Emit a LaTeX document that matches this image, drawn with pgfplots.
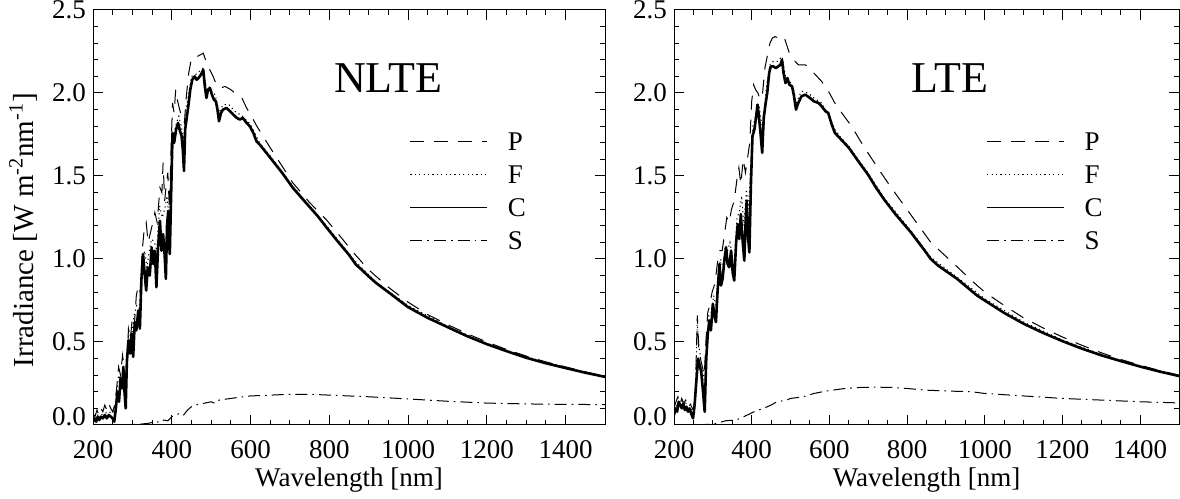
\documentclass[border=0pt]{standalone}
\usepackage{pgfplots}
\pgfplotsset{compat=1.18}
\usepackage{fontspec}
\setmainfont{Liberation Serif}

\pgfplotsset{
  myax/.style={
    scale only axis, anchor=south west,
    height=207.5bp,
    xmin=200, xmax=1500, ymin=0, ymax=2.5,
    xtick={200,400,600,800,1000,1200,1400},
    xticklabels={200,400,600,800,1000,1200,1400},
    ytick={0,0.5,1,1.5,2,2.5},
    yticklabels={\raisebox{8.4bp}{0.0},0.5,1.0,1.5,2.0,\raisebox{-6.6bp}{2.5}},
    minor x tick num=3, minor y tick num=4,
    tick align=inside, major tick length=5bp, minor tick length=2.7bp,
    axis line style={line width=0.5bp},
    every tick/.style={line width=0.5bp, black},
    tick label style={font=\fontsize{13.5bp}{16bp}\selectfont},
    label style={font=\fontsize{13.5bp}{16bp}\selectfont},
    xticklabel style={anchor=base, yshift=-17bp},
    xlabel={Wavelength [nm]},
    xlabel style={at={(axis description cs:0.5,-0.149)}, anchor=base},
    legend style={draw=none, fill=none, inner sep=0pt, outer sep=0pt,
      at={(axis description cs:0.619,0.704)}, anchor=north west,
      font=\fontsize{13.5bp}{16bp}\selectfont,
      column sep=10bp, row sep=7.5bp,
      nodes={inner sep=0pt, text height=9bp, text depth=0pt, anchor=west}},
    legend image code/.code={\draw[#1] (0bp,0bp) -- (38.5bp,0bp);},
  },
  Pst/.style={black, line width=0.5bp, dash pattern=on 7bp off 5bp},
  Fst/.style={black, line width=0.5bp, dash pattern=on 0.6bp off 1.6bp},
  Cst/.style={black, line width=1.3bp, line join=round},
  Cleg/.style={black, line width=0.5bp},
  Sst/.style={black, line width=0.5bp, dash pattern=on 6bp off 2.5bp on 0.8bp off 2.5bp},
}

\begin{document}
\begin{tikzpicture}
% ---------------- NLTE ----------------
\begin{axis}[myax, at={(46.5bp,37bp)}, width=256bp,
  ylabel={Irradiance [W m\textsuperscript{-2}nm\textsuperscript{-1}]},
  ylabel style={at={(axis description cs:-0.117,0.47)}, anchor=base, rotate=0,
    font=\fontsize{14.5bp}{17bp}\selectfont}]
\addplot[Sst, forget plot] coordinates {
(200,0.0) (250,0.0) (300,0.003) (320,0.005) (340,0.01) (360,0.02) (370,0.015) (380,0.03)
(390,0.025) (400,0.05) (410,0.06) (420,0.07) (430,0.06) (440,0.09) (450,0.11) (460,0.12)
(480,0.13) (500,0.14) (510,0.13) (520,0.15) (550,0.16) (580,0.17) (600,0.175) (650,0.18)
(700,0.185) (750,0.185) (800,0.18) (900,0.17) (1000,0.157) (1100,0.143) (1200,0.132)
(1300,0.127) (1400,0.124) (1500,0.123)};
\addplot[Pst, forget plot] coordinates {
(200,0.07) (205,0.05) (210,0.09) (215,0.06) (220,0.10) (225,0.08) (230,0.12) (235,0.09)
(240,0.13) (245,0.10) (250,0.08) (255,0.12) (260,0.22) (265,0.35) (270,0.30) (275,0.42)
(280,0.33) (285,0.28) (290,0.58) (295,0.52) (300,0.65) (305,0.60) (310,0.78) (315,0.84)
(320,0.80) (325,1.05) (330,1.18) (335,1.22) (340,1.10) (345,1.15) (350,1.20) (357,1.28)
(363,1.22) (370,1.43) (375,1.40) (378,1.58) (382,1.35) (386,1.45) (390,1.52) (394,1.30)
(398,1.65) (402,1.94) (406,1.88) (410,2.02) (414,1.96) (420,1.90) (426,1.85) (432,1.82)
(437,1.98) (443,2.12) (450,2.21) (465,2.22) (480,2.24) (490,2.17) (505,2.10) (515,2.04)
(525,2.03) (535,2.04) (550,2.02) (565,1.99) (578,1.97) (590,1.91) (600,1.87) (616,1.80)
(650,1.67) (680,1.56) (707,1.46) (750,1.34) (793,1.235) (830,1.13) (859,1.045) (870,1.015)
(900,0.935) (950,0.83) (1000,0.74) (1050,0.665) (1100,0.605) (1150,0.55) (1200,0.50)
(1250,0.455) (1300,0.415) (1350,0.38) (1400,0.35) (1450,0.32) (1500,0.293)};
\addplot[Fst, forget plot] coordinates {
(200,0.05) (210,0.06) (220,0.06) (230,0.07) (240,0.08) (250,0.07) (258,0.13) (265,0.30)
(272,0.26) (278,0.34) (284,0.20) (290,0.55) (297,0.50) (304,0.66) (311,0.72) (318,0.70)
(325,0.95) (331,1.05) (337,0.95) (343,1.05) (349,1.12) (356,1.10) (362,1.05) (369,1.32)
(376,1.25) (382,1.30) (388,1.38) (394,1.22) (400,1.72) (406,1.76) (412,1.82) (418,1.86)
(424,1.80) (430,1.72) (436,1.90) (442,1.98) (450,2.10) (460,2.11) (470,2.13) (480,2.15)
(486,2.05) (494,2.04) (502,2.01) (510,1.99) (520,1.88) (530,1.93) (545,1.93) (560,1.89)
(580,1.86) (600,1.81) (623,1.70) (660,1.59) (707,1.44) (793,1.20) (866,0.985) (919,0.86)
(1000,0.72) (1100,0.595) (1200,0.492) (1300,0.41) (1400,0.347) (1500,0.292)};
\addplot[Cst, forget plot] coordinates {
(200,0.02) (204,0.04) (208,0.02) (212,0.05) (216,0.03) (220,0.05) (225,0.04) (230,0.06)
(235,0.04) (240,0.06) (245,0.05) (250,0.04) (254,0.02) (258,0.10) (262,0.20) (266,0.14)
(270,0.28) (274,0.22) (277,0.35) (280,0.20) (283,0.10) (286,0.38) (290,0.51) (294,0.43)
(298,0.55) (302,0.41) (306,0.62) (310,0.57) (315,0.69) (319,0.58) (323,0.88) (327,1.03)
(331,0.92) (335,0.81) (339,0.95) (344,0.90) (349,1.07) (353,0.97) (357,1.05) (361,0.83)
(365,1.06) (370,1.23) (374,1.05) (378,1.15) (382,1.02) (385,0.88) (388,1.20) (391,1.29)
(393,1.10) (395,1.03) (398,1.35) (402,1.76) (406,1.70) (411,1.78) (416,1.82) (421,1.77)
(425,1.74) (428,1.66) (431,1.53) (434,1.78) (438,1.85) (442,1.92) (447,2.02) (452,2.08)
(458,2.10) (463,2.08) (468,2.09) (474,2.11) (480,2.14) (484,2.04) (488,1.97) (492,2.02)
(497,2.03) (502,1.99) (507,1.96) (512,1.95) (516,1.90) (520,1.83) (525,1.88) (530,1.90)
(539,1.91) (548,1.89) (556,1.87) (565,1.85) (573,1.84) (580,1.85) (590,1.82) (598,1.80)
(607,1.76) (615,1.71) (623,1.69) (640,1.64) (660,1.58) (680,1.52) (707,1.43) (740,1.34)
(770,1.26) (793,1.19) (820,1.11) (850,1.025) (862,0.985) (868,0.965) (880,0.94) (900,0.895)
(919,0.855) (950,0.80) (1000,0.71) (1050,0.645) (1100,0.59) (1150,0.535) (1200,0.487)
(1250,0.445) (1300,0.405) (1350,0.372) (1400,0.343) (1450,0.315) (1500,0.29)};
\addlegendimage{Pst}\addlegendentry{P}
\addlegendimage{Fst}\addlegendentry{F}
\addlegendimage{Cleg}\addlegendentry{C}
\addlegendimage{Sst}\addlegendentry{S}
\node[anchor=base, font=\fontsize{22bp}{26bp}\selectfont] at (axis cs:950,2.0) {NLTE};
\end{axis}
% ---------------- LTE ----------------
\begin{axis}[myax, at={(337bp,37bp)}, width=252.5bp]
\addplot[Sst, forget plot] coordinates {
(200,0.0) (250,0.0) (300,0.005) (334,0.026) (360,0.03) (380,0.05) (406,0.08) (430,0.10)
(450,0.12) (465,0.14) (490,0.15) (500,0.16) (533,0.17) (560,0.19) (593,0.205) (640,0.22)
(678,0.226) (720,0.228) (763,0.226) (800,0.22) (848,0.21) (900,0.205) (967,0.20)
(1000,0.19) (1100,0.175) (1200,0.16) (1300,0.15) (1400,0.14) (1500,0.133)};
\addplot[Pst, forget plot] coordinates {
(200,0.10) (205,0.14) (210,0.17) (215,0.12) (220,0.16) (225,0.13) (230,0.15) (235,0.12)
(240,0.14) (245,0.11) (250,0.09) (255,0.20) (260,0.66) (264,0.45) (268,0.40) (273,0.35)
(278,0.30) (282,0.50) (287,0.68) (292,0.72) (298,0.80) (305,0.85) (312,0.98) (318,1.05)
(324,1.05) (330,1.15) (336,1.25) (342,1.22) (348,1.30) (355,1.35) (362,1.48) (367,1.55)
(372,1.45) (378,1.60) (384,1.52) (390,1.62) (395,1.70) (400,1.95) (405,2.05) (410,2.02)
(416,2.00) (422,1.96) (428,2.00) (434,2.15) (440,2.22) (447,2.30) (453,2.33) (460,2.34)
(470,2.33) (483,2.34) (490,2.29) (497,2.24) (508,2.20) (520,2.17) (538,2.17) (560,2.12)
(580,2.07) (600,2.00) (614,1.94) (635,1.87) (657,1.80) (680,1.71) (699,1.64) (730,1.53)
(759,1.43) (790,1.33) (827,1.21) (861,1.10) (912,0.99) (971,0.86) (1000,0.80) (1050,0.72)
(1100,0.645) (1150,0.585) (1200,0.53) (1250,0.48) (1300,0.435) (1350,0.395) (1400,0.36)
(1450,0.328) (1500,0.30)};
\addplot[Fst, forget plot] coordinates {
(200,0.09) (208,0.12) (216,0.15) (224,0.14) (232,0.13) (240,0.12) (249,0.07) (255,0.18)
(260,0.62) (264,0.48) (270,0.38) (276,0.30) (280,0.20) (285,0.50) (290,0.66) (296,0.68)
(302,0.78) (308,0.72) (314,0.90) (320,1.00) (326,0.95) (332,1.08) (338,1.05) (344,1.10)
(350,1.02) (356,1.00) (362,1.25) (368,1.28) (374,1.38) (380,1.20) (386,1.42) (392,1.30)
(398,1.60) (403,1.80) (408,1.84) (413,1.90) (419,1.92) (425,1.82) (430,1.78) (436,2.00)
(442,2.10) (448,2.18) (456,2.19) (466,2.19) (478,2.22) (487,2.10) (497,2.08) (509,2.01)
(514,1.94) (528,2.01) (545,2.00) (560,1.97) (580,1.94) (600,1.86) (614,1.78) (630,1.73)
(650,1.68) (674,1.60) (699,1.52) (742,1.365) (810,1.17) (861,1.01) (929,0.89) (1000,0.76)
(1100,0.62) (1200,0.512) (1300,0.425) (1400,0.356) (1500,0.298)};
\addplot[Cst, forget plot] coordinates {
(200,0.06) (204,0.10) (208,0.08) (212,0.14) (216,0.12) (220,0.10) (224,0.13) (228,0.09)
(232,0.11) (236,0.08) (240,0.10) (244,0.07) (249,0.04) (253,0.12) (258,0.28) (262,0.40)
(266,0.36) (270,0.32) (274,0.22) (279,0.08) (283,0.40) (287,0.55) (291,0.63) (295,0.57)
(300,0.73) (304,0.66) (308,0.62) (312,0.80) (317,0.97) (321,0.84) (325,0.88) (330,1.00)
(334,1.07) (338,0.97) (342,0.95) (347,1.05) (351,0.92) (355,0.87) (360,1.10) (364,1.21)
(368,1.12) (372,1.27) (377,1.10) (381,0.99) (384,1.20) (387,1.35) (390,1.15) (394,1.04)
(398,1.45) (402,1.74) (407,1.78) (411,1.85) (415,1.93) (419,1.85) (423,1.75) (427,1.64)
(431,1.85) (436,1.94) (440,2.00) (445,2.12) (449,2.16) (456,2.16) (462,2.15) (468,2.16)
(474,2.17) (478,2.20) (482,2.12) (487,2.06) (492,2.09) (497,2.05) (504,2.04) (509,1.98)
(514,1.90) (520,1.94) (528,1.98) (538,1.99) (550,1.97) (560,1.95) (572,1.94) (580,1.92)
(590,1.89) (597,1.88) (606,1.81) (614,1.76) (630,1.72) (650,1.67) (674,1.59) (699,1.51)
(720,1.43) (742,1.355) (770,1.27) (810,1.16) (844,1.055) (861,1.00) (880,0.96) (929,0.88)
(980,0.78) (1000,0.75) (1050,0.675) (1100,0.61) (1150,0.555) (1200,0.505) (1250,0.46)
(1300,0.42) (1350,0.385) (1400,0.352) (1450,0.322) (1500,0.295)};
\addlegendimage{Pst}\addlegendentry{P}
\addlegendimage{Fst}\addlegendentry{F}
\addlegendimage{Cleg}\addlegendentry{C}
\addlegendimage{Sst}\addlegendentry{S}
\node[anchor=base, font=\fontsize{22bp}{26bp}\selectfont] at (axis cs:910,2.0) {LTE};
\end{axis}
\pgfresetboundingbox
\path[use as bounding box] (0,0) rectangle (590bp,249.5bp);
\end{tikzpicture}
\end{document}
